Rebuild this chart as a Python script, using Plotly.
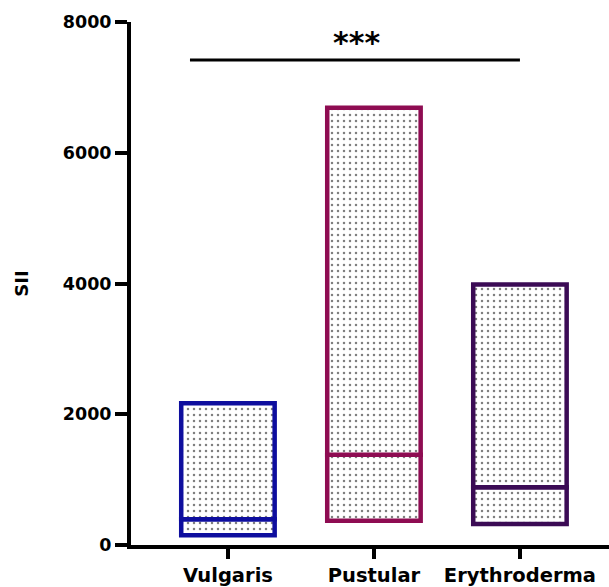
import plotly.graph_objects as go

categories = ["Vulgaris", "Pustular", "Erythroderma"]
mins = [150, 370, 320]
medians = [395, 1380, 885]
maxs = [2170, 6690, 3985]
colors = ["#0E0E9E", "#8E0C52", "#3B0B55"]
sig_y = 7420
sig_x = [-0.26, 2.0]
sig_text = "***"

xpos = list(range(len(categories)))
font_family = "DejaVu Sans, sans-serif"

fig = go.Figure()
pattern = dict(shape=".", fgcolor="black", bgcolor="white", size=6, solidity=0.14)
fig.add_trace(go.Bar(
    x=xpos, y=[m - lo for m, lo in zip(medians, mins)], base=mins, width=0.64,
    marker=dict(color="white", pattern=pattern, line=dict(color=colors, width=4.5)),
    showlegend=False, hoverinfo="skip"))
fig.add_trace(go.Bar(
    x=xpos, y=[hi - m for hi, m in zip(maxs, medians)], base=medians, width=0.64,
    marker=dict(color="white", pattern=pattern, line=dict(color=colors, width=4.5)),
    showlegend=False, hoverinfo="skip"))
fig.add_trace(go.Scatter(x=sig_x, y=[sig_y, sig_y], mode="lines",
                         line=dict(color="black", width=3), showlegend=False, hoverinfo="skip"))
fig.add_annotation(x=0.88, y=sig_y, yshift=17, text="<b>" + sig_text + "</b>", showarrow=False,
                   font=dict(family=font_family, size=30, color="black"))

fig.update_layout(
    width=609, height=587, barmode="overlay",
    margin=dict(l=131, r=0, t=22, b=42),
    plot_bgcolor="white", paper_bgcolor="white",
    font=dict(family=font_family, color="black"),
    xaxis=dict(range=[-0.664, 2.61], tickvals=xpos, ticktext=["<b>%s</b>" % c for c in categories],
               showline=True, linecolor="black", linewidth=4, ticks="outside", ticklen=10, tickwidth=4,
               tickcolor="black", showgrid=False, zeroline=False, tickfont=dict(size=19.5)),
    yaxis=dict(range=[0, 8000], tickvals=[0, 2000, 4000, 6000, 8000],
               ticktext=["<b>%d</b>" % v for v in [0, 2000, 4000, 6000, 8000]],
               showline=True, linecolor="black", linewidth=4, ticks="outside", ticklen=12, tickwidth=4,
               tickcolor="black", showgrid=False, zeroline=False, tickfont=dict(size=17.5),
               title=dict(text="<b>SII</b>", font=dict(size=18), standoff=30)),
)
fig.write_html("out.html")
